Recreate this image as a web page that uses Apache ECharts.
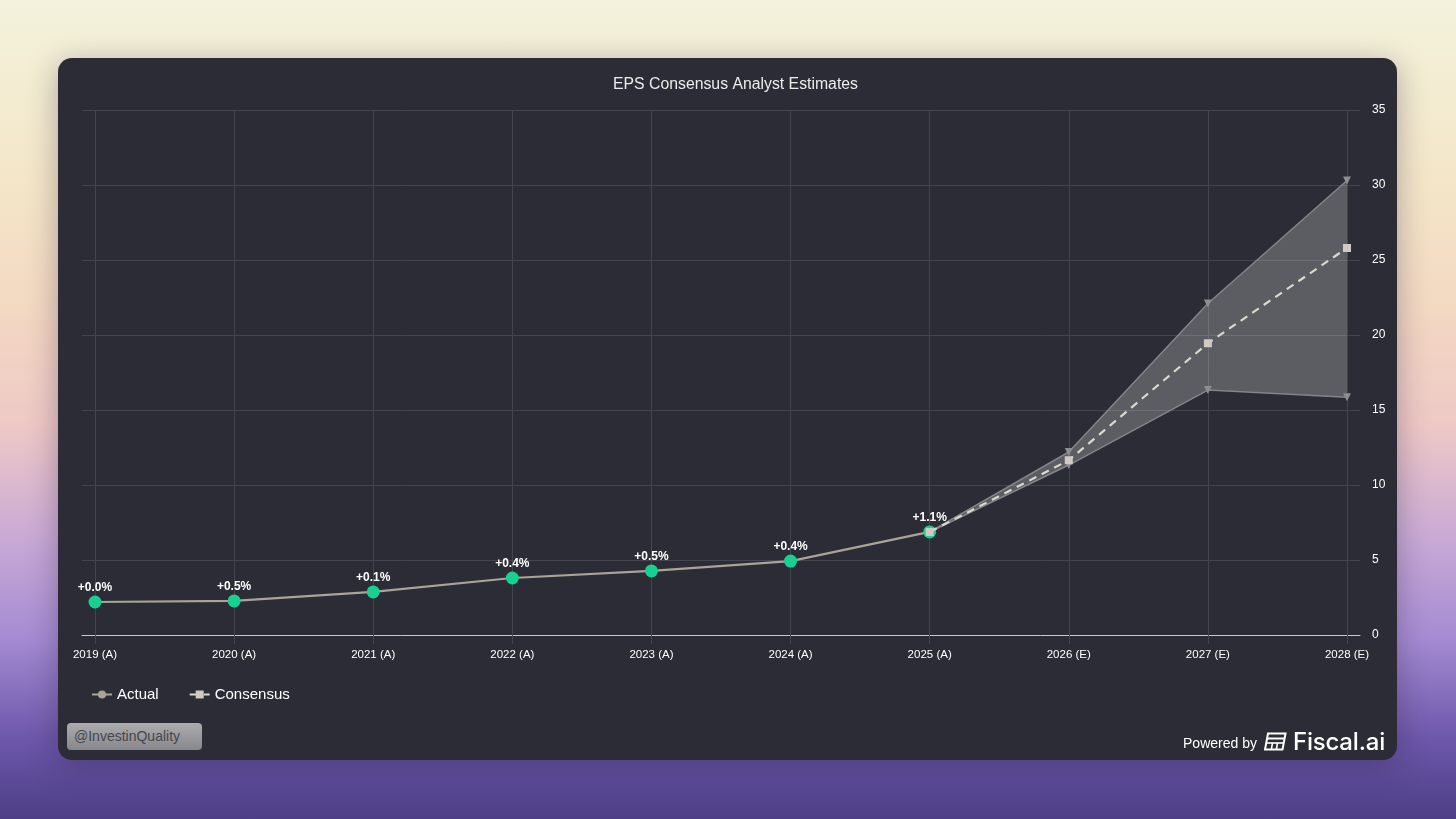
<!DOCTYPE html>
<html>
<head>
<meta charset="utf-8">
<script src="https://cdn.jsdelivr.net/npm/echarts@6/dist/echarts.min.js"></script>
<style>
    html, body { margin: 0; padding: 0; width: 1456px; height: 819px; overflow: hidden; }
    body {
        font-family: "Liberation Sans", Arial, sans-serif;
        background: linear-gradient(180deg, #f3f2dc 0%, #f4e6c8 22%, #f3d8c2 38%, #eec8c6 52%, #c8a9d6 66%, #a58bd3 78%, #6e58ab 90%, #4c3e86 100%);
        position: relative;
    }
    #card {
        position: absolute; left: 58px; top: 58px; width: 1339px; height: 702px;
        background: #2b2c35; border-radius: 14px;
        box-shadow: 0 6px 30px rgba(40, 30, 60, 0.35);
        overflow: hidden;
    }
    #chart { position: absolute; left: 0; top: 0; width: 1339px; height: 702px; }
    #handle {
        position: absolute; left: 9px; top: 665px; width: 135px; height: 27px;
        border-radius: 4px; background: linear-gradient(180deg, #adadb0, #87878b);
        color: #46464a; font-size: 14px; line-height: 27px; padding-left: 7px; box-sizing: border-box;
    }
    #powered {
        position: absolute; right: 12px; top: 668px; height: 30px;
        display: flex; align-items: center; color: #fff;
    }
    #powered .pb { font-size: 14px; margin-right: 7px; margin-top: 3px; }
    #powered .brand { font-family: Inter, "Liberation Sans", sans-serif; font-size: 24px; font-weight: 500; margin-left: 6px; letter-spacing: -0.2px; }
</style>
</head>
<body>
<div id="card">
    <div id="chart"></div>
    <div id="handle">@InvestinQuality</div>
    <div id="powered">
        <span class="pb">Powered by</span>
        <svg width="23" height="19" viewBox="0 0 23 19">
            <path d="M4 1.5 H21.5 L18.5 17.5 H1 Z" fill="none" stroke="#fff" stroke-width="2"/>
            <path d="M3 6.5 H20.5" stroke="#fff" stroke-width="2"/>
            <path d="M2.3 11 H19.6" stroke="#fff" stroke-width="1.6"/>
            <path d="M8.5 11 L7.3 17.5 M13.5 11 L12.3 17.5" stroke="#fff" stroke-width="1.6"/>
        </svg>
        <span class="brand">Fiscal.ai</span>
    </div>
</div>
<script>
const years = ['2019 (A)', '2020 (A)', '2021 (A)', '2022 (A)', '2023 (A)',
    '2024 (A)', '2025 (A)', '2026 (E)', '2027 (E)', '2028 (E)'];
const actual = [2.2, 2.27, 2.87, 3.8, 4.27, 4.93, 6.87, null, null, null];
const surprise = ['+0.0%', '+0.5%', '+0.1%', '+0.4%', '+0.5%', '+0.4%', '+1.1%'];
const consensus = [null, null, null, null, null, null, 6.87, 11.65, 19.45, 25.8];
const high = [null, null, null, null, null, null, 6.87, 12.2, 22.1, 30.3];
const low = [null, null, null, null, null, null, 6.87, 11.33, 16.33, 15.85];
const yTicks = { min: 0, max: 35, interval: 5 };

const spread = high.map((h, i) => (h == null ? null : +(h - low[i]).toFixed(2)));

const GRID_COLOR = '#44454e';
const TEXT = '#ffffff';

const chart = echarts.init(document.getElementById('chart'), null, { renderer: 'canvas' });

const estSymbolSize = (v, p) => (p.dataIndex > 6 ? 8 : 0);

chart.setOption({
    animation: false,
    textStyle: { fontFamily: '"Liberation Sans", Arial, sans-serif' },
    title: {
        text: 'EPS Consensus Analyst Estimates',
        left: 550, top: 14,
        textStyle: { color: '#ececec', fontSize: 15.8, fontWeight: 'normal' },
    },
    legend: {
        left: 28, top: 624,
        itemWidth: 20, itemHeight: 10, itemGap: 30,
        textStyle: { color: TEXT, fontSize: 15 },
        data: [
            { name: 'Actual', itemStyle: { color: '#aaa498' } },
            { name: 'Consensus' },
        ],
    },
    grid: [
        { left: 24, right: 37, top: 52, bottom: 125 },
        { left: 37, right: 50, top: 52, bottom: 125 },
    ],
    xAxis: [
        {
            gridIndex: 0, type: 'value', min: 0, max: 1,
            axisLine: { show: true, lineStyle: { color: '#c9c9cc', width: 1 } },
            axisTick: { show: false }, axisLabel: { show: false }, splitLine: { show: false },
        },
        {
            gridIndex: 1, type: 'category', data: years, boundaryGap: false,
            axisLine: { show: false },
            axisTick: { show: true, length: 9, lineStyle: { color: GRID_COLOR } },
            axisLabel: { color: TEXT, fontSize: 11.5, margin: 14 },
            splitLine: { show: true, lineStyle: { color: GRID_COLOR } },
        },
    ],
    yAxis: [
        {
            gridIndex: 0, type: 'value', ...yTicks,
            axisLine: { show: false }, axisTick: { show: false }, axisLabel: { show: false },
            splitLine: { show: true, lineStyle: { color: GRID_COLOR } },
        },
        {
            gridIndex: 1, type: 'value', position: 'right', ...yTicks,
            axisLine: { show: false }, axisTick: { show: false },
            axisLabel: { color: TEXT, fontSize: 12, margin: 25 },
            splitLine: { show: false },
        },
    ],
    series: [
        {
            name: 'lowBase', type: 'line', xAxisIndex: 1, yAxisIndex: 1,
            stack: 'band', data: low, symbol: 'none',
            lineStyle: { opacity: 0 }, silent: true, z: 1,
        },
        {
            name: 'spread', type: 'line', xAxisIndex: 1, yAxisIndex: 1,
            stack: 'band', data: spread, symbol: 'none',
            lineStyle: { opacity: 0 }, areaStyle: { color: 'rgba(255,255,255,0.23)', opacity: 1 },
            silent: true, z: 1,
        },
        {
            name: 'High', type: 'line', xAxisIndex: 1, yAxisIndex: 1,
            data: high, symbol: 'triangle', symbolRotate: 180, symbolSize: estSymbolSize,
            showAllSymbol: true,
            lineStyle: { color: '#84848a', width: 1.5 }, itemStyle: { color: '#8d8d92' }, z: 2,
        },
        {
            name: 'Low', type: 'line', xAxisIndex: 1, yAxisIndex: 1,
            data: low, symbol: 'triangle', symbolRotate: 180, symbolSize: estSymbolSize,
            showAllSymbol: true,
            lineStyle: { color: '#84848a', width: 1.5 }, itemStyle: { color: '#8d8d92' }, z: 2,
        },
        {
            name: 'Actual', type: 'line', xAxisIndex: 1, yAxisIndex: 1,
            data: actual, symbol: 'circle', symbolSize: 13,
            lineStyle: { color: '#aaa498', width: 2.2 },
            itemStyle: { color: '#16d18f', borderWidth: 0 },
            label: {
                show: true, position: 'top', distance: 2,
                color: TEXT, fontSize: 12, fontWeight: 'bold',
                formatter: p => surprise[p.dataIndex] ?? '',
            },
            z: 3,
        },
        {
            name: 'Consensus', type: 'line', xAxisIndex: 1, yAxisIndex: 1,
            data: consensus, symbol: 'rect', symbolSize: 8,
            lineStyle: { color: '#dcd8ce', width: 2.2, type: [8, 6] },
            itemStyle: { color: '#cfcbc2' },
            z: 4,
        },
    ],
});
</script>
</body>
</html>
